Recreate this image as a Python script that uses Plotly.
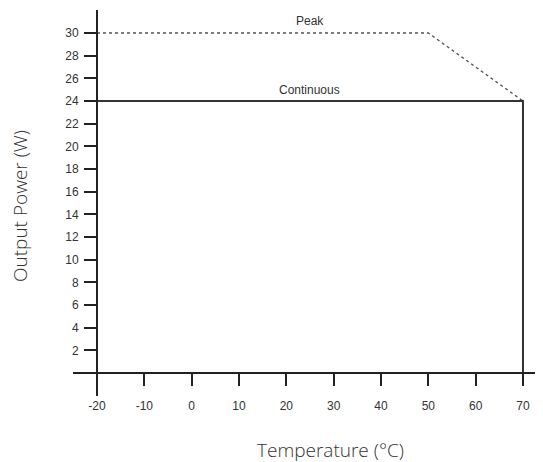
import plotly.graph_objects as go

# Data
peak_temp = [-20, 50, 70]
peak_power = [30, 30, 24]
cont_temp = [-20, 70, 70]
cont_power = [24, 24, 0]
x_ticks = [-20, -10, 0, 10, 20, 30, 40, 50, 60, 70]
x_labels = ["-20", "-10", "0", "10", "20", "30", "40", "50", "60", "70"]
y_ticks = [2, 4, 6, 8, 10, 12, 14, 16, 18, 20, 22, 24, 26, 28, 30]

# page body has an 8px margin
W, H = 535, 454
L, R, T, B = 65, 0, 2, 66
pw, ph = W - L - R, H - T - B

xr = [-25.07, 74.23]
yr = [-2.03, 32.03]

def xpaper(v):
    return (v - xr[0]) / (xr[1] - xr[0])

def ypaper(v):
    return (v - yr[0]) / (yr[1] - yr[0])

tickfont = dict(family="Liberation Sans, Arial", size=12, color="#333")
titlefont = dict(family="Open Sans", size=19, color="#333", weight=300)

fig = go.Figure()
fig.add_trace(go.Scatter(x=peak_temp, y=peak_power, mode="lines",
                         line=dict(color="#555", width=1.5, dash="dot"),
                         cliponaxis=False, hoverinfo="skip"))
fig.add_trace(go.Scatter(x=cont_temp, y=cont_power, mode="lines",
                         line=dict(color="#333", width=2),
                         cliponaxis=False, hoverinfo="skip"))

fig.update_layout(
    width=W, height=H,
    margin=dict(l=L, r=R, t=T, b=B, pad=0),
    paper_bgcolor="white", plot_bgcolor="white",
    showlegend=False,
    xaxis=dict(range=xr, tickvals=x_ticks, ticktext=x_labels, ticks="outside",
               ticklen=12, tickwidth=2, tickcolor="#222", showline=True,
               linecolor="#222", linewidth=2, showgrid=False, zeroline=False,
               anchor="free", position=ypaper(0), tickfont=tickfont,
               ticklabelstandoff=10),
    yaxis=dict(range=yr, tickvals=y_ticks, ticks="outside", ticklen=12,
               tickwidth=1.5, tickcolor="#222", showline=True, linecolor="#222",
               linewidth=2, showgrid=False, zeroline=False,
               anchor="free", position=xpaper(-20), tickfont=tickfont,
               ticklabelstandoff=3),
    annotations=[
        dict(x=25, y=30, xref="x", yref="y", text="Peak", showarrow=False,
             yshift=12, font=tickfont),
        dict(x=25, y=24, xref="x", yref="y", text="Continuous", showarrow=False,
             yshift=11, font=tickfont),
        dict(x=(322 - L) / pw, y=(T + ph - 442) / ph, xref="paper", yref="paper",
             xanchor="center", yanchor="middle",
             text="Temperature (°C)", showarrow=False, font=titlefont),
        dict(x=(12 - L) / pw, y=(T + ph - 198) / ph, xref="paper", yref="paper",
             xanchor="center", yanchor="middle",
             text="Output Power (W)", showarrow=False, textangle=-90, font=titlefont),
    ],
)

fig.write_html("out.html")
